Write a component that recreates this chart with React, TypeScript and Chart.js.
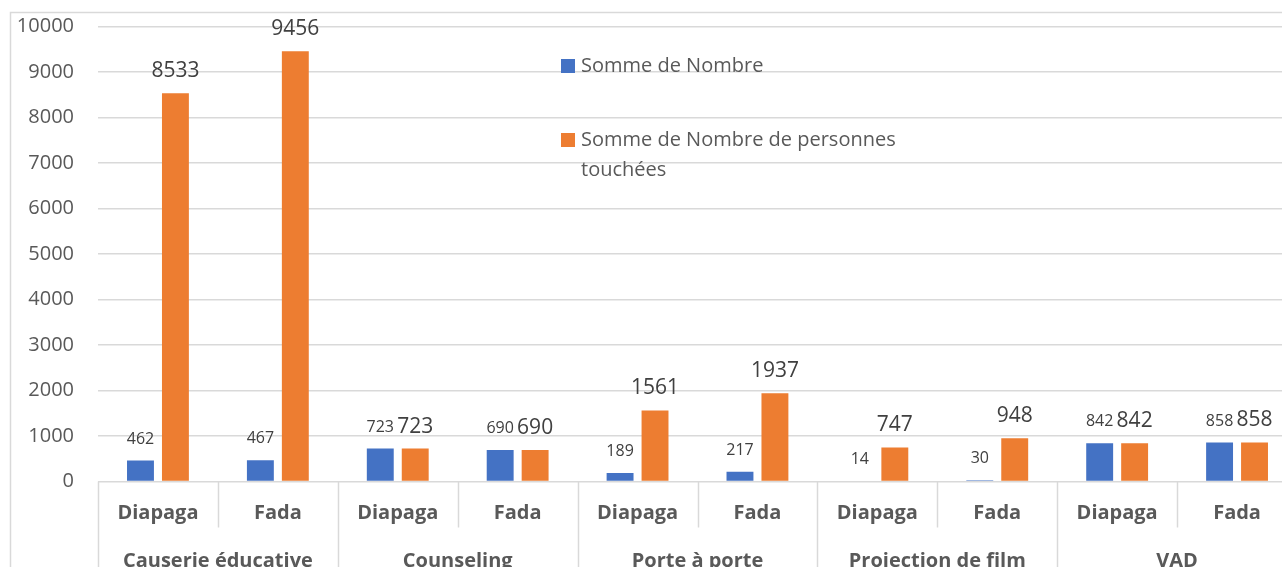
import React, { useEffect, useRef } from 'react';
import { Chart, registerables } from 'chart.js';

Chart.register(...registerables);

const groups = ['Causerie éducative', 'Counseling', 'Porte à porte', 'Projection de film', 'VAD'];
const subLabels = ['Diapaga', 'Fada'];
const categories = ['Diapaga', 'Fada', 'Diapaga', 'Fada', 'Diapaga', 'Fada', 'Diapaga', 'Fada', 'Diapaga', 'Fada'];
const sommeNombre = [462, 467, 723, 690, 189, 217, 14, 30, 842, 858];
const sommePersonnes = [8533, 9456, 723, 690, 1561, 1937, 747, 948, 842, 858];
const seriesNames = ['Somme de Nombre', 'Somme de Nombre de personnes touchées'];
const yMin = 0;
const yMax = 10000;
const yStep = 1000;

const FONT = "'Open Sans', sans-serif";
const GRID = '#d9d9d9';
const TEXT = '#595959';
const LABEL = '#404040';

const wrapText = (ctx: CanvasRenderingContext2D, text: string, maxW: number) => {
  const words = text.split(' ');
  const lines: string[] = [];
  let cur = '';
  for (const w of words) {
    const t = cur ? cur + ' ' + w : w;
    if (ctx.measureText(t).width > maxW && cur) {
      lines.push(cur);
      cur = w;
    } else cur = t;
  }
  if (cur) lines.push(cur);
  return lines;
};

const extras = {
  id: 'excelExtras',
  beforeDraw(chart: any) {
    const ctx = chart.ctx;
    ctx.save();
    ctx.strokeStyle = GRID;
    ctx.lineWidth = 1.5;
    ctx.strokeRect(10.5, 12.5, 3000, 3000);
    ctx.restore();
  },
  afterDatasetsDraw(chart: any) {
    const ctx = chart.ctx;
    ctx.save();
    ctx.fillStyle = LABEL;
    ctx.textAlign = 'center';
    ctx.textBaseline = 'middle';
    chart.data.datasets.forEach((ds: any, di: number) => {
      const meta = chart.getDatasetMeta(di);
      const size = di === 0 ? 16 : 21;
      const off = di === 0 ? 21.5 : 22;
      ctx.font = `${size}px ${FONT}`;
      meta.data.forEach((el: any, i: number) => {
        ctx.fillText(String(ds.data[i]), el.x, el.y - off);
      });
    });
    ctx.restore();
  },
  afterDraw(chart: any) {
    const ctx = chart.ctx;
    const xs = chart.scales.x;
    const area = chart.chartArea;
    const n = chart.data.labels.length;
    const w = (xs.right - xs.left) / n;
    const per = subLabels.length;
    ctx.save();
    ctx.strokeStyle = GRID;
    ctx.lineWidth = 1.5;
    for (let i = 0; i <= n; i++) {
      const x = Math.round(xs.getPixelForValue(Math.min(i, n - 1)) + (i === n ? w / 2 : -w / 2)) + 0.5;
      const isGroup = i % per === 0;
      ctx.beginPath();
      ctx.moveTo(x, area.bottom);
      ctx.lineTo(x, isGroup ? chart.height : area.bottom + 46);
      ctx.stroke();
    }
    ctx.fillStyle = TEXT;
    ctx.textAlign = 'center';
    ctx.textBaseline = 'middle';
    ctx.font = `bold 20px ${FONT}`;
    groups.forEach((g, gi) => {
      const a = xs.getPixelForValue(gi * per);
      const b = xs.getPixelForValue(gi * per + per - 1);
      ctx.fillText(g, (a + b) / 2, 561);
    });
    // legend
    ctx.textAlign = 'left';
    ctx.font = `20px ${FONT}`;
    const lx = 561;
    const ys = [66, 140];
    chart.data.datasets.forEach((ds: any, di: number) => {
      ctx.fillStyle = ds.backgroundColor;
      ctx.fillRect(lx, ys[di] - 7, 14, 14);
      ctx.fillStyle = TEXT;
      const lines = wrapText(ctx, ds.label, 340);
      lines.forEach((ln, li) => ctx.fillText(ln, lx + 20, ys[di] + li * 30));
    });
    ctx.restore();
  },
};

export default function App() {
  const ref = useRef<HTMLCanvasElement>(null);
  useEffect(() => {
    if (!ref.current) return;
    const chart = new Chart(ref.current, {
      type: 'bar',
      data: {
        labels: categories,
        datasets: [
          { label: seriesNames[0], data: sommeNombre, backgroundColor: '#4472C4', categoryPercentage: 0.583, barPercentage: 0.77 },
          { label: seriesNames[1], data: sommePersonnes, backgroundColor: '#ED7D31', categoryPercentage: 0.583, barPercentage: 0.77 },
        ],
      },
      options: {
        responsive: false,
        animation: false,
        devicePixelRatio: 1,
        layout: { padding: { left: 0, top: 26.5, right: 23, bottom: 38.5 } },
        plugins: { legend: { display: false }, tooltip: { enabled: false } },
        scales: {
          x: {
            grid: { display: false },
            border: { display: false },
            ticks: { color: TEXT, font: { family: FONT, size: 20, weight: 'bold' }, padding: 12, maxRotation: 0, autoSkip: false },
            afterFit: (s: any) => { s.height = 100; },
          },
          y: {
            min: yMin,
            max: yMax,
            grid: { color: GRID, lineWidth: 1.5, drawTicks: false },
            border: { display: false },
            ticks: { stepSize: yStep, color: TEXT, font: { family: FONT, size: 20 }, padding: 24, callback: (v: any) => String(v) },
            afterFit: (s: any) => { s.width = 98; s.paddingTop = 0; s.paddingBottom = 0; },
          },
        },
      },
      plugins: [extras],
    } as any);
    return () => chart.destroy();
  }, []);
  return (
    <div style={{ position: 'fixed', left: 0, top: 0, width: 1282, height: 567, overflow: 'hidden', background: '#fff' }}>
      <canvas ref={ref} width={1320} height={620} style={{ display: 'block' }} />
    </div>
  );
}
